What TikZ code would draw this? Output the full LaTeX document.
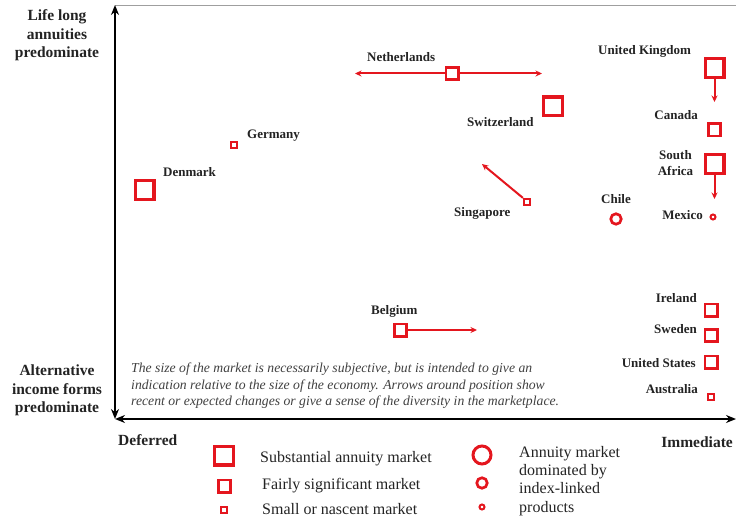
\documentclass[tikz,border=0pt]{standalone}
\usepackage{fontspec}
\setmainfont{Liberation Serif}
\usetikzlibrary{arrows.meta}
\definecolor{mred}{RGB}{228,22,30}
\definecolor{txt}{RGB}{35,35,35}
\begin{document}
\begin{tikzpicture}[x=1pt,y=-1pt,
  big/.style={draw=mred,line width=3.2pt,minimum size=18.8pt,inner sep=0pt},
  mid/.style={draw=mred,line width=2.7pt,minimum size=12.3pt,inner sep=0pt},
  sml/.style={draw=mred,line width=2.2pt,minimum size=6pt,inner sep=0pt},
  bigc/.style={circle,draw=mred,line width=3pt,minimum size=18pt,inner sep=0pt},
  midc/.style={circle,draw=mred,line width=2.7pt,minimum size=10.5pt,inner sep=0pt},
  smlc/.style={circle,draw=mred,line width=2pt,minimum size=5pt,inner sep=0pt},
  lbl/.style={text=txt,font=\fontsize{13}{16}\selectfont\bfseries,inner sep=0pt},
  axl/.style={text=txt,font=\fontsize{15.5}{18.7}\selectfont\bfseries,align=center,inner sep=0pt},
  leg/.style={text=txt,font=\fontsize{16}{18.3}\selectfont,inner sep=0pt},
  note/.style={text=black!75,font=\fontsize{13.7}{16.5}\selectfont\itshape,align=left,inner sep=0pt},
  chg/.style={draw=mred,line width=2pt,-{Stealth[length=6.5pt,width=6pt]}},
  axisline/.style={line width=2.8pt,{Stealth[length=10pt,width=8pt]}-{Stealth[length=10pt,width=8pt]}}]
\useasboundingbox (0,0) rectangle (736,521);
% frame and axes
\coordinate (org) at (115,419);
\coordinate (ytop) at (115,5);
\coordinate (xend) at (736,419);
\coordinate (tl) at (115,5.5);
\coordinate (tr) at (736,5.5);
\draw[gray!75,line width=1.5pt] (tl) -- (tr);
\draw[axisline] (ytop) -- (org);
\draw[axisline] (org) -- (xend);
% axis labels
\node[axl,anchor=north] (ytoplbl) at (57,9.4) {Life long\\annuities\\predominate};
\node[axl,anchor=north] (ybotlbl) at (57,364.4) {Alternative\\income forms\\predominate};
\node[axl,anchor=base west] (deferred) at (118,445) {Deferred};
\node[axl,anchor=base east] (immediate) at (733,447) {Immediate};
% markets
\node[mid] (nl) at (452,73.5) {};
\node[lbl,anchor=base west] (nllbl) at (367,62) {Netherlands};
\coordinate (nlL) at (355,73.5);
\coordinate (nlR) at (542,73.5);
\draw[chg] (nl.west) -- (nlL);
\draw[chg] (nl.east) -- (nlR);
\node[big] (sw) at (553,106.5) {};
\node[lbl,anchor=base west] (swlbl) at (467,127) {Switzerland};
\node[big] (uk) at (714.5,68) {};
\node[lbl,anchor=base west] (uklbl) at (598,55) {United Kingdom};
\coordinate (ukT) at (714.5,102);
\draw[chg] (uk.south) -- (ukT);
\node[mid] (ca) at (714.5,130) {};
\node[lbl,anchor=base east] (calbl) at (698,120) {Canada};
\node[big] (sa) at (714.5,164) {};
\node[lbl,anchor=north,align=center] (salbl) at (675.5,150) {South\\Africa};
\coordinate (saT) at (714.5,199);
\draw[chg] (sa.south) -- (saT);
\node[smlc] (mx) at (713,217) {};
\node[lbl,anchor=base east] (mxlbl) at (703,220) {Mexico};
\node[midc] (cl) at (616,219) {};
\node[lbl,anchor=base west] (cllbl) at (601,204) {Chile};
\node[sml] (sg) at (527,202) {};
\node[lbl,anchor=base west] (sglbl) at (454,217) {Singapore};
\coordinate (sgT) at (482,164);
\draw[chg] (sg.north west) -- (sgT);
\node[sml] (de) at (234,145) {};
\node[lbl,anchor=base west] (delbl) at (247,139) {Germany};
\node[big] (dk) at (144.5,190) {};
\node[lbl,anchor=base west] (dklbl) at (163,177) {Denmark};
\node[mid] (be) at (400.5,330) {};
\node[lbl,anchor=base west] (belbl) at (371,315) {Belgium};
\coordinate (beT) at (477,330);
\draw[chg] (be.east) -- (beT);
\node[mid] (ie) at (711,310) {};
\node[lbl,anchor=base east] (ielbl) at (697,302) {Ireland};
\node[mid] (se) at (711,335.5) {};
\node[lbl,anchor=base east] (selbl) at (697,333) {Sweden};
\node[mid] (us) at (711,362) {};
\node[lbl,anchor=base east] (uslbl) at (696,367) {United States};
\node[sml] (au) at (711,397) {};
\node[lbl,anchor=base east] (aulbl) at (698,393) {Australia};
% note
\node[note,anchor=north west] (notetxt) at (131,362.7) {The size of the market is necessarily subjective, but is intended to give an\\indication relative to the size of the economy. Arrows around position show\\recent or expected changes or give a sense of the diversity in the marketplace.};
% legend
\node[big] (lb) at (224,455.5) {};
\node[mid] (lm) at (224.5,486) {};
\node[sml] (ls) at (224,510) {};
\node[leg,anchor=base west] (lbt) at (260,462) {Substantial annuity market};
\node[leg,anchor=base west] (lmt) at (262,489) {Fairly significant market};
\node[leg,anchor=base west] (lst) at (262,514) {Small or nascent market};
\node[bigc] (lcb) at (482,455) {};
\node[midc] (lcm) at (482,483) {};
\node[smlc] (lcs) at (482,507) {};
\node[leg,anchor=north west,align=left] (lct) at (519,446) {Annuity market\\dominated by\\index-linked\\products};
\end{tikzpicture}
\end{document}
